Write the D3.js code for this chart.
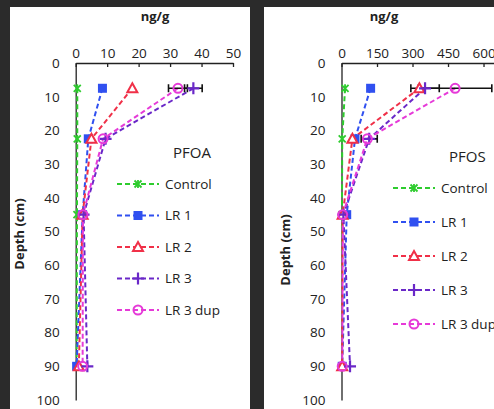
<!DOCTYPE html>
<html>
<head>
<meta charset="utf-8">
<script src="https://cdn.jsdelivr.net/npm/d3@7"></script>
<style>
  body { margin: 0; background: #2b2b2b; }
  svg { display: block; }
  text { font-family: "Open Sans", "DejaVu Sans", sans-serif; fill: #222; }
</style>
</head>
<body>
<div id="chart"></div>
<script>
// depth of each sample (cm)
const depths = [7.5, 22.5, 45, 90];
const seriesNames = ["Control", "LR 1", "LR 2", "LR 3", "LR 3 dup"];
const depthTicks = [0, 10, 20, 30, 40, 50, 60, 70, 80, 90, 100];

// PFOA, ng/g
const pfoaTicks = [0, 10, 20, 30, 40, 50];
const pfoaControl = [0.5, 0.5, 0.4, 0.3];
const pfoaLR1 = [8.5, 4, 2.2, 0.3];
const pfoaLR2 = [18, 5, 2.2, 1];
const pfoaLR3 = [37.4, 9.5, 2.5, 3.7];
const pfoaLR3dup = [32.5, 8.7, 2.3, 2.2];
const pfoaLR3Err = [2.8, 0, 0, 0];
const pfoaLR3dupErr = [3, 0, 0, 0];

// PFOS, ng/g
const pfosTicks = [0, 150, 300, 450, 600, 750];
const pfosControl = [15, 3, 2, 2];
const pfosLR1 = [123, 57, 22, 3];
const pfosLR2 = [329, 46, 5, 3];
const pfosLR3 = [353, 117, 8, 36];
const pfosLR3dup = [480, 109, 5, 3];
const pfosLR3Err = [60, 34, 0, 0];
const pfosLR3dupErr = [155, 0, 0, 0];

const colors = ["#2ecc2e", "#3050f0", "#f03048", "#6a28c8", "#e63ad8"];
const markers = ["star", "square", "triangle", "plus", "circle"];

const W = 494, H = 409;
const svg = d3.select("#chart").append("svg")
    .attr("width", W)
    .attr("height", H);

// dark frame + two white panels
svg.append("rect").attr("width", W).attr("height", H).attr("fill", "#2b2b2b");
svg.append("rect").attr("x", 10).attr("y", 7).attr("width", 240).attr("height", H).attr("fill", "#fff");
svg.append("rect").attr("x", 264).attr("y", 7).attr("width", 240).attr("height", H).attr("fill", "#fff");

// draw a marker at (cx, cy)
function drawMarker(g, type, cx, cy, color) {
    if (type == "square") {
        g.append("rect").attr("x", cx - 4.5).attr("y", cy - 4.5)
            .attr("width", 9).attr("height", 9).attr("fill", color);
    } else if (type == "triangle") {
        g.append("path")
            .attr("d", `M${cx},${cy - 5}L${cx + 5},${cy + 4}L${cx - 5},${cy + 4}Z`)
            .attr("fill", "#fff").attr("stroke", color).attr("stroke-width", 2);
    } else if (type == "plus") {
        g.append("path")
            .attr("d", `M${cx - 6},${cy}H${cx + 6}M${cx},${cy - 6}V${cy + 6}`)
            .attr("stroke", color).attr("stroke-width", 2.2);
    } else if (type == "circle") {
        g.append("circle").attr("cx", cx).attr("cy", cy).attr("r", 4.5)
            .attr("fill", "none").attr("stroke", color).attr("stroke-width", 2);
    } else {
        // asterisk-like cross
        g.append("path")
            .attr("d", `M${cx - 3.5},${cy - 3.5}L${cx + 3.5},${cy + 3.5}M${cx + 3.5},${cy - 3.5}L${cx - 3.5},${cy + 3.5}M${cx},${cy - 4}V${cy + 4}`)
            .attr("stroke", color).attr("stroke-width", 1.8);
    }
}

function drawPanel(p) {
    const x = d3.scaleLinear().domain([p.ticks[0], p.ticks[p.ticks.length - 1]]).range(p.xRange);
    const y = d3.scaleLinear().domain([0, 100]).range([63, 400]);
    const g = svg.append("g");

    // x axis on top
    const axX = g.append("g")
        .attr("transform", `translate(0,${y(0)})`)
        .call(d3.axisTop(x).tickValues(p.ticks).tickSize(-4).tickSizeOuter(0).tickPadding(9));
    axX.select(".domain").attr("stroke", "#222").attr("stroke-width", 1.3);
    axX.selectAll(".tick line").attr("stroke", "#222").attr("stroke-width", 1.3);
    axX.selectAll("text").style("font-size", "13.5px").attr("fill", "#222").attr("dy", "0.32em");

    // y axis (no tick marks)
    const axY = g.append("g")
        .attr("transform", `translate(${x(0)},0)`)
        .call(d3.axisLeft(y).tickValues(depthTicks).tickSize(0).tickPadding(16));
    axY.select(".domain").attr("stroke", "#222").attr("stroke-width", 1.3);
    axY.selectAll("text").style("font-size", "13.5px").attr("fill", "#222");

    g.append("text")
        .attr("x", p.unitX).attr("y", 21)
        .attr("text-anchor", "middle")
        .style("font-size", "13px").style("font-weight", "bold")
        .text("ng/g");

    g.append("text")
        .attr("transform", `translate(${p.depthX},${p.depthY}) rotate(-90)`)
        .attr("text-anchor", "middle")
        .style("font-size", "13px").style("font-weight", "bold")
        .text("Depth (cm)");

    // lines
    const line = d3.line()
        .x(d => x(d.v))
        .y(d => y(d.depth));
    p.series.forEach((vals, i) => {
        const pts = vals.map((v, j) => ({ v: v, depth: depths[j] }));
        g.append("path")
            .attr("d", line(pts))
            .attr("fill", "none")
            .attr("stroke", colors[i])
            .attr("stroke-width", 2)
            .attr("stroke-dasharray", "5,3");
    });

    // error bars
    p.errors.forEach((e) => {
        const vals = p.series[e.idx];
        e.err.forEach((er, j) => {
            if (er <= 0) return;
            const cy = y(depths[j]);
            const x1 = x(vals[j] - er), x2 = x(vals[j] + er);
            g.append("path")
                .attr("d", `M${x1},${cy}H${x2}M${x1},${cy - 4}V${cy + 4}M${x2},${cy - 4}V${cy + 4}`)
                .attr("stroke", "#111").attr("stroke-width", 1.6).attr("fill", "none");
        });
    });

    // markers
    p.series.forEach((vals, i) => {
        vals.forEach((v, j) => drawMarker(g, markers[i], x(v), y(depths[j]), colors[i]));
    });

    // legend
    g.append("text")
        .attr("x", p.legX + 56).attr("y", p.legY - 31)
        .attr("dy", "0.35em")
        .style("font-size", "15px")
        .text(p.title);
    seriesNames.forEach((name, i) => {
        const ly = p.legY + i * p.legStep;
        g.append("line")
            .attr("x1", p.legX).attr("x2", p.legX + 42)
            .attr("y1", ly).attr("y2", ly)
            .attr("stroke", colors[i]).attr("stroke-width", 2)
            .attr("stroke-dasharray", "5,3");
        drawMarker(g, markers[i], p.legX + 21, ly, colors[i]);
        g.append("text")
            .attr("x", p.legX + 48).attr("y", ly)
            .attr("dy", "0.35em")
            .style("font-size", "13.5px")
            .text(name);
    });
}

drawPanel({
    title: "PFOA",
    ticks: pfoaTicks,
    xRange: [75.7, 233],
    unitX: 155,
    depthX: 24, depthY: 234,
    series: [pfoaControl, pfoaLR1, pfoaLR2, pfoaLR3, pfoaLR3dup],
    errors: [{ idx: 3, err: pfoaLR3Err }, { idx: 4, err: pfoaLR3dupErr }],
    legX: 117, legY: 184, legStep: 31.5
});

drawPanel({
    title: "PFOS",
    ticks: pfosTicks,
    xRange: [341.5, 341.5 + 750 * 0.2367],
    unitX: 384,
    depthX: 290, depthY: 250,
    series: [pfosControl, pfosLR1, pfosLR2, pfosLR3, pfosLR3dup],
    errors: [{ idx: 3, err: pfosLR3Err }, { idx: 4, err: pfosLR3dupErr }],
    legX: 393, legY: 188, legStep: 34
});
</script>
</body>
</html>
